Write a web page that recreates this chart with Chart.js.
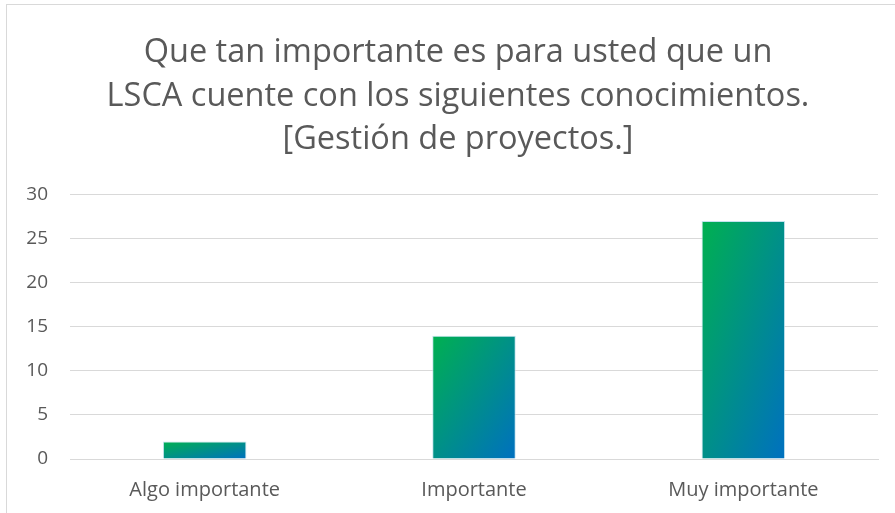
<!DOCTYPE html>
<html>
<head>
<meta charset="utf-8">
<script src="https://cdn.jsdelivr.net/npm/chart.js@4.4.0/dist/chart.umd.min.js"></script>
<style>
  html, body { margin: 0; padding: 0; background: #fff; overflow: hidden; }
  #wrap { position: absolute; left: 6px; top: 4px; width: 889px; height: 509px; border: 1px solid #d9d9d9; border-right: none; border-bottom: none; box-sizing: border-box; }
  #box { position: absolute; left: 0; top: 0; width: 895px; height: 513px; }
</style>
</head>
<body>
<div id="wrap"></div>
<div id="box"><canvas id="chart"></canvas></div>
<script>
const categories = ['Algo importante', 'Importante', 'Muy importante'];
const values = [2, 14, 27];
const titleLines = [
  'Que tan importante es para usted que un',
  'LSCA cuente con los siguientes conocimientos.',
  '[Gestión de proyectos.]'
];

Chart.defaults.font.family = "'Open Sans', 'Noto Sans', sans-serif";
Chart.defaults.color = '#595959';

const barPct = 0.31;

// diagonal gradient scaled with the bar: green top-left, blue bottom-right
function barGradient(context) {
  const chart = context.chart;
  const xs = chart.scales.x, ys = chart.scales.y;
  if (!chart.chartArea || !xs || !ys || context.dataIndex === undefined) return '#00B050';
  const i = context.dataIndex;
  const cx = xs.getPixelForValue(i);
  const w = (xs.width / categories.length) * barPct;
  const top = ys.getPixelForValue(values[i]);
  const h = ys.getPixelForValue(0) - top;
  if (![cx, w, top, h].every(Number.isFinite) || h <= 0) return '#00B050';
  const x0 = cx - w / 2, y0 = top;
  const k = 2 * w * h / (w * w + h * h);
  const g = chart.ctx.createLinearGradient(x0, y0, x0 + h * k, y0 + w * k);
  g.addColorStop(0, '#00B050');
  g.addColorStop(1, '#0070C0');
  return g;
}

new Chart(document.getElementById('chart'), {
  type: 'bar',
  data: {
    labels: categories,
    datasets: [{
      data: values,
      backgroundColor: barGradient,
      borderColor: 'rgba(180,220,235,0.8)',
      borderWidth: 1,
      categoryPercentage: 1,
      barPercentage: barPct
    }]
  },
  options: {
    responsive: true,
    maintainAspectRatio: false,
    animation: false,
    layout: { padding: { left: 21, right: 0, top: 31, bottom: 0 } },
    plugins: {
      legend: { display: false },
      tooltip: { enabled: false },
      title: {
        display: true,
        text: titleLines,
        color: '#595959',
        font: { size: 32.5, weight: 'normal', lineHeight: 1.34 },
        padding: { top: 0, bottom: 33 }
      }
    },
    scales: {
      x: {
        grid: { display: false },
        border: { color: '#d9d9d9', width: 1 },
        ticks: { font: { size: 20 }, color: '#595959', padding: 11 }
      },
      y: {
        min: 0,
        max: 30,
        afterFit: (scale) => { scale.width = 49; },
        ticks: { stepSize: 5, font: { size: 19 }, color: '#595959', padding: 22 },
        grid: { color: '#d9d9d9', drawTicks: false },
        border: { display: false }
      },
      // empty right-hand axis, only keeps space on the right of the plot
      yRight: {
        position: 'right',
        afterFit: (scale) => { scale.width = 17; },
        ticks: { display: false },
        grid: { display: false },
        border: { display: false }
      }
    }
  }
});
</script>
</body>
</html>
